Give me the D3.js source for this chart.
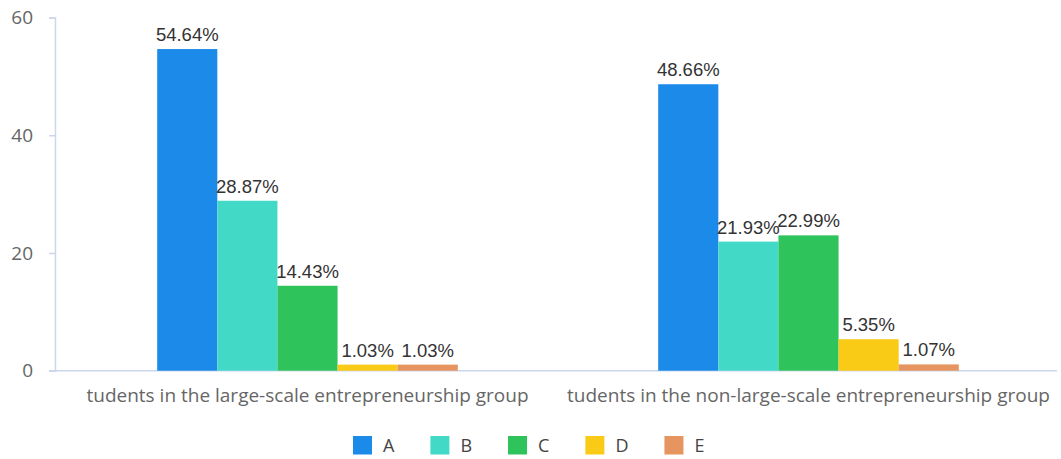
<!DOCTYPE html>
<html>
<head>
<meta charset="utf-8">
<script src="https://cdn.jsdelivr.net/npm/d3@7/dist/d3.min.js"></script>
<style>
  html, body { margin: 0; padding: 0; background: #fff; }
  svg { display: block; }
</style>
</head>
<body>
<svg id="chart" width="1061" height="459"></svg>
<script>
// Categories (x axis) and series
const categories = [
  "tudents in the large-scale entrepreneurship group",
  "tudents in the non-large-scale entrepreneurship group"
];
const seriesNames = ["A", "B", "C", "D", "E"];
const seriesA = [54.64, 48.66];
const seriesB = [28.87, 21.93];
const seriesC = [14.43, 22.99];
const seriesD = [1.03, 5.35];
const seriesE = [1.03, 1.07];
const yTicks = [0, 20, 40, 60];
const colors = ["#1b8ae9", "#42d9c6", "#2ec35b", "#f9cb16", "#e69560"];

const seriesValues = [seriesA, seriesB, seriesC, seriesD, seriesE];

const svg = d3.select("#chart");
const x0 = 55, x1 = 1057;
const y0 = 370.7, y1 = 17.5;

const x = d3.scaleBand().domain(categories).range([x0 + 2, x1 + 2]);
const xs = d3.scaleBand().domain(seriesNames).range([0, x.bandwidth() * 0.6]);
const y = d3.scaleLinear().domain([0, 60]).range([y0, y1]);

const axisColor = "#ccd6eb";

// y axis
const yAxis = svg.append("g").attr("transform", `translate(${x0},0)`)
  .call(d3.axisLeft(y).tickValues(yTicks).tickSize(6).tickPadding(16));
yAxis.select(".domain").attr("stroke", axisColor).attr("stroke-width", 1.5);
yAxis.selectAll(".tick line").attr("stroke", axisColor).attr("stroke-width", 1.5);
yAxis.selectAll(".tick text")
  .attr("fill", "#666").attr("font-size", 19)
  .attr("font-family", "'Open Sans', 'Noto Sans', sans-serif");

// x axis
const xAxis = svg.append("g").attr("transform", `translate(0,${y0})`);
xAxis.append("line")
  .attr("x1", x0 - 6).attr("x2", x1)
  .attr("stroke", axisColor).attr("stroke-width", 1.5);
xAxis.selectAll("text").data(categories).join("text")
  .attr("x", d => x(d) + x.bandwidth() / 2)
  .attr("y", 31.5)
  .attr("text-anchor", "middle")
  .attr("fill", "#666").attr("font-size", 19)
  .attr("font-family", "'Open Sans', 'Noto Sans', sans-serif")
  .text(d => d);

// bars, five per category group
const groupOffset = (x.bandwidth() - x.bandwidth() * 0.6) / 2;
const rows = [];
categories.forEach((c, ci) => {
  seriesNames.forEach((s, si) => {
    rows.push({ cat: c, ser: s, val: seriesValues[si][ci], color: colors[si] });
  });
});

const g = svg.append("g");
g.selectAll("rect").data(rows).join("rect")
  .attr("x", d => x(d.cat) + groupOffset + xs(d.ser))
  .attr("y", d => y(d.val))
  .attr("width", xs.bandwidth())
  .attr("height", d => y0 - y(d.val))
  .attr("fill", d => d.color);

// value labels above each bar
g.selectAll("text").data(rows).join("text")
  .attr("x", d => x(d.cat) + groupOffset + xs(d.ser) + xs.bandwidth() / 2)
  .attr("y", d => y(d.val) - 8)
  .attr("text-anchor", "middle")
  .attr("fill", "#333")
  .attr("font-size", 18.5)
  .attr("font-family", "'Liberation Sans', Arial, sans-serif")
  .text(d => d.val.toFixed(2) + "%");

// legend
const legend = svg.append("g").attr("transform", "translate(353,436)");
let lx = 0;
seriesNames.forEach((s, i) => {
  const item = legend.append("g").attr("transform", `translate(${lx},0)`);
  item.append("rect").attr("width", 19).attr("height", 18.5).attr("fill", colors[i]);
  const t = item.append("text").attr("x", 30).attr("y", 16)
    .attr("fill", "#444").attr("font-size", 18)
    .attr("font-family", "'Open Sans', 'Noto Sans', sans-serif")
    .text(s);
  const tw = t.node().getComputedTextLength();
  lx += 30 + tw + 36;
});
</script>
</body>
</html>
